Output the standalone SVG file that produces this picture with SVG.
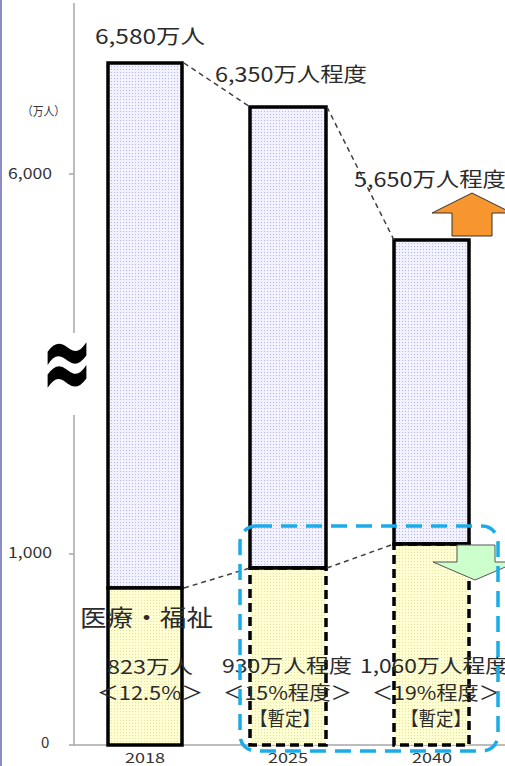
<svg xmlns="http://www.w3.org/2000/svg" width="505" height="766" viewBox="0 0 505 766">
<defs>
<pattern id="pu" width="3" height="3" patternUnits="userSpaceOnUse"><rect width="3" height="3" fill="#F2F2FF"/><rect width="1" height="1" fill="#B4B4EC"/></pattern>
<pattern id="ye" width="3" height="3" patternUnits="userSpaceOnUse"><rect width="3" height="3" fill="#FFFFD2"/><rect width="1" height="1" fill="#E6E0A8"/></pattern>
<style>
text{font-family:"Noto Sans CJK JP","Noto Sans",sans-serif;fill:#2b2b2b;}
.ax{fill:#333;font-size:13px;}
.big{font-size:20px;}
.lbl{font-size:19px;}
.axis{stroke:#A6A6A6;stroke-width:1.5;fill:none;}
.solid{stroke:#000;stroke-width:3.5;}
.dash{stroke:#000;stroke-width:3.5;stroke-dasharray:9 5;fill:none;}
.conn{stroke:#404040;stroke-width:1.5;stroke-dasharray:5 4;fill:none;}
</style>
</defs>
<rect width="505" height="766" fill="#fff"/>
<line x1="1" y1="0" x2="1" y2="766" stroke="#8C8CC8" stroke-width="2"/>
<g id="axis">
<line class="axis" x1="74" y1="3" x2="74" y2="333"/>
<line class="axis" x1="74" y1="415" x2="74" y2="745"/>
<line class="axis" x1="69" y1="174" x2="74" y2="174"/>
<line class="axis" x1="69" y1="554" x2="74" y2="554"/>
<line class="axis" x1="69" y1="745" x2="505" y2="745"/>
<text class="ax" x="22" y="116" textLength="43" lengthAdjust="spacingAndGlyphs" style="font-size:12px">（万人）</text>
<text class="ax" x="8" y="179" textLength="44" lengthAdjust="spacingAndGlyphs" style="font-size:15px">6,000</text>
<text class="ax" x="8" y="558" textLength="44" lengthAdjust="spacingAndGlyphs" style="font-size:15px">1,000</text>
<text class="ax" x="41" y="748" style="font-size:15px">0</text>
<text x="67" y="0" text-anchor="middle" transform="translate(0,400) scale(1,1.8)" style="font-family:'DejaVu Sans',sans-serif;font-weight:bold;font-size:62px;fill:#000">≈</text>
<text class="ax" x="145" y="763" text-anchor="middle" textLength="40" lengthAdjust="spacingAndGlyphs" style="font-size:13px">2018</text>
<text class="ax" x="288" y="763" text-anchor="middle" textLength="40" lengthAdjust="spacingAndGlyphs" style="font-size:13px">2025</text>
<text class="ax" x="432" y="763" text-anchor="middle" textLength="40" lengthAdjust="spacingAndGlyphs" style="font-size:13px">2040</text>
</g>
<g id="bar2018">
<rect x="108" y="63" width="74" height="525" fill="url(#pu)" class="solid"/>
<rect x="108" y="588" width="74" height="157" fill="url(#ye)" class="solid"/>
</g>
<g id="bar2025">
<rect x="250" y="107" width="76" height="461" fill="url(#pu)" class="solid"/>
<rect x="250" y="568" width="76" height="177" fill="url(#ye)"/>
<rect x="250" y="568" width="76" height="177" class="dash"/>
<line x1="250" y1="568" x2="326" y2="568" class="solid"/>
</g>
<g id="bar2040">
<rect x="394" y="240" width="75" height="304" fill="url(#pu)" class="solid"/>
<rect x="394" y="544" width="75" height="201" fill="url(#ye)"/>
<rect x="394" y="544" width="75" height="201" class="dash"/>
<line x1="394" y1="544" x2="469" y2="544" class="solid"/>
</g>
<g id="connectors">
<line class="conn" x1="184" y1="63" x2="250" y2="107"/>
<line class="conn" x1="327" y1="107" x2="394" y2="240"/>
<line class="conn" x1="184" y1="588" x2="250" y2="568"/>
<line class="conn" x1="327" y1="568" x2="394" y2="544"/>
</g>
<g id="arrow-up">
<polygon points="472,193 512,213 492,213 492,236 452,236 452,213 432,213" fill="#F7962F" stroke="#333" stroke-width="1"/>
</g>
<g id="arrow-down">
<polygon points="457,545 495,545 495,562 517,562 475,580 433,562 457,562" fill="#CCFFCC" stroke="#555" stroke-width="1"/>
</g>
<g id="labels">
<text class="big" x="95" y="44" textLength="110" lengthAdjust="spacingAndGlyphs">6,580万人</text>
<text class="big" x="215" y="82" textLength="152" lengthAdjust="spacingAndGlyphs">6,350万人程度</text>
<text class="big" x="354" y="187" textLength="152" lengthAdjust="spacingAndGlyphs">5,650万人程度</text>
<text x="80" y="626" textLength="133" lengthAdjust="spacingAndGlyphs" style="font-size:23px">医療・福祉</text>
<text class="lbl" x="107" y="674" textLength="86" lengthAdjust="spacingAndGlyphs">823万人</text>
<text class="lbl" x="97" y="700" textLength="106" lengthAdjust="spacingAndGlyphs">＜12.5%＞</text>
<text class="lbl" x="222" y="673" textLength="130" lengthAdjust="spacingAndGlyphs">930万人程度</text>
<text class="lbl" x="223" y="700" textLength="129" lengthAdjust="spacingAndGlyphs">＜15%程度＞</text>
<text class="lbl" x="250" y="726" textLength="70" lengthAdjust="spacingAndGlyphs">【暫定】</text>
<text class="lbl" x="360" y="673" textLength="148" lengthAdjust="spacingAndGlyphs">1,060万人程度</text>
<text class="lbl" x="372" y="700" textLength="128" lengthAdjust="spacingAndGlyphs">＜19%程度＞</text>
<text class="lbl" x="401" y="726" textLength="70" lengthAdjust="spacingAndGlyphs">【暫定】</text>
</g>
<g id="highlight">
<rect x="240" y="526" width="258" height="225" rx="16" fill="none" stroke="#1AACE8" stroke-width="3.5" stroke-dasharray="16 9"/>
</g>
</svg>
